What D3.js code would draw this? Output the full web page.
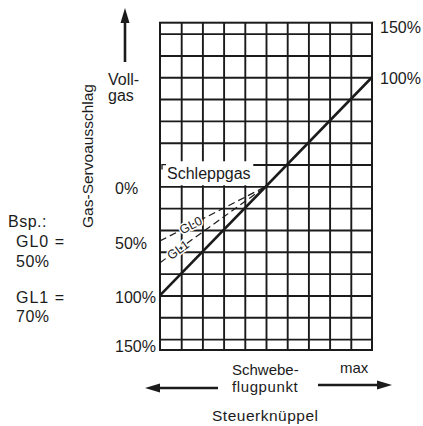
<!DOCTYPE html>
<html>
<head>
<meta charset="utf-8">
<script src="https://cdn.jsdelivr.net/npm/d3@7"></script>
<style>
  body { margin: 0; background: #fff; }
  svg { display: block; font-family: "Liberation Sans", Arial, sans-serif; }
  text { fill: #1b1b1b; }
</style>
</head>
<body>
<svg width="423" height="426"></svg>
<script>
let width = 423,
    height = 426;

// Knüppelweg (stick travel) and Servoausschlag (servo travel) in %
let stickGrid = [-80, -60, -40, -20, 0, 20, 40, 60, 80];
let servoGrid = [-140, -120, -100, -80, -60, -40, -20, 0, 20, 40, 60, 80, 100, 120, 140];

let leftTicks = [0, -50, -100, -150];
let leftTickLabels = ["0%", "50%", "100%", "150%"];
let rightTicks = [150, 100];
let rightTickLabels = ["150%", "100%"];

// Gaskurve und Leerlauf-Varianten
let mainStick = [-100, 100];
let mainServo = [-100, 100];
let gl0Stick = [-100, 0];
let gl0Servo = [-50, 0];
let gl1Stick = [-100, 0];
let gl1Servo = [-70, 0];

let x = d3.scaleLinear().domain([-100, 100]).range([160, 372]);
let y = d3.scaleLinear().domain([-150, 150]).range([350, 22.7]);

let svg = d3.select("svg");
let ink = "#1b1b1b";

// grid via axes
let grid = svg.append("g").attr("class", "grid");

grid.append("g")
    .attr("transform", "translate(0," + y(-150) + ")")
    .call(d3.axisBottom(x).tickValues(stickGrid).tickSize(-(y(-150) - y(150))).tickFormat(""))
    .call(g => g.select(".domain").remove());

grid.append("g")
    .attr("transform", "translate(" + x(-100) + ",0)")
    .call(d3.axisLeft(y).tickValues(servoGrid).tickSize(-(x(100) - x(-100))).tickFormat(""))
    .call(g => g.select(".domain").remove());

grid.selectAll("line")
    .attr("stroke", ink)
    .attr("stroke-width", 1.9);

grid.append("rect")
    .attr("x", x(-100))
    .attr("y", y(150))
    .attr("width", x(100) - x(-100))
    .attr("height", y(-150) - y(150))
    .attr("fill", "none")
    .attr("stroke", ink)
    .attr("stroke-width", 2);

// Schleppgas label box
let box = svg.append("g");
box.append("rect")
    .attr("x", x(-99))
    .attr("y", y(23))
    .attr("width", x(-12) - x(-99))
    .attr("height", y(1) - y(23))
    .attr("fill", "#fff");
box.append("path")
    .attr("d", "M" + (x(-100) + 2) + "," + (y(20) + 5) + "V" + y(20) + "H" + (x(-100) + 6))
    .attr("fill", "none")
    .attr("stroke", ink)
    .attr("stroke-width", 1.3);
box.append("text")
    .attr("x", x(-100) + 7)
    .attr("y", y(7))
    .attr("font-size", 16)
    .text("Schleppgas");

// curves
let line = d3.line().x(d => x(d[0])).y(d => y(d[1]));

[[gl0Stick, gl0Servo], [gl1Stick, gl1Servo]].forEach(s => {
  svg.append("path")
      .datum(d3.zip(s[0], s[1]))
      .attr("d", line)
      .attr("fill", "none")
      .attr("stroke", ink)
      .attr("stroke-width", 1.2)
      .attr("stroke-dasharray", "7,4");
});

svg.append("path")
    .datum(d3.zip(mainStick, mainServo))
    .attr("d", line)
    .attr("fill", "none")
    .attr("stroke", ink)
    .attr("stroke-width", 2.6);

// GL labels along the dashed lines
let glLabel = (stick, servo, at, txt) => {
  let ang = Math.atan2(y(servo[1]) - y(servo[0]), x(stick[1]) - x(stick[0])) * 180 / Math.PI;
  let sv = servo[0] + (servo[1] - servo[0]) * (at - stick[0]) / (stick[1] - stick[0]);
  svg.append("text")
      .attr("transform", "translate(" + x(at) + "," + y(sv) + ") rotate(" + ang + ")")
      .attr("text-anchor", "middle")
      .attr("dy", "0.35em")
      .attr("font-size", 12.5)
      .attr("stroke", "#fff")
      .attr("stroke-width", 3)
      .attr("paint-order", "stroke")
      .text(txt);
};
glLabel(gl0Stick, gl0Servo, -71, "GL0");
glLabel(gl1Stick, gl1Servo, -83, "GL1");

// tick labels
svg.append("g").selectAll("text")
  .data(leftTicks)
  .enter().append("text")
    .attr("x", 115)
    .attr("y", d => Math.min(y(d) + 2, 346))
    .attr("dy", "0.35em")
    .attr("font-size", 16)
    .text((d, i) => leftTickLabels[i]);

svg.append("g").selectAll("text")
  .data(rightTicks)
  .enter().append("text")
    .attr("x", 380)
    .attr("y", d => Math.max(y(d) + 1, 27))
    .attr("dy", "0.35em")
    .attr("font-size", 16)
    .text((d, i) => rightTickLabels[i]);

// y title
svg.append("text")
    .attr("transform", "translate(93,156) rotate(-90)")
    .attr("text-anchor", "middle")
    .attr("font-size", 15.5)
    .text("Gas-Servoausschlag");

svg.append("text").attr("x", 108).attr("y", 85).attr("font-size", 16).text("Voll-");
svg.append("text").attr("x", 108).attr("y", 101).attr("font-size", 16).text("gas");

// arrows
let arrow = (x1, y1, x2, y2) => {
  let a = Math.atan2(y2 - y1, x2 - x1);
  let len = 15, half = 4.5;
  let bx = x2 - len * Math.cos(a), by = y2 - len * Math.sin(a);
  svg.append("line")
      .attr("x1", x1).attr("y1", y1).attr("x2", bx).attr("y2", by)
      .attr("stroke", ink).attr("stroke-width", 2.6);
  svg.append("path")
      .attr("d", "M" + x2 + "," + y2 +
        "L" + (bx + half * Math.sin(a)) + "," + (by - half * Math.cos(a)) +
        "L" + (bx - half * Math.sin(a)) + "," + (by + half * Math.cos(a)) + "Z")
      .attr("fill", ink);
};
arrow(125, 62, 125, 8);
arrow(218, 388, 145, 388);
arrow(318, 385, 392, 385);

// example block
let exText = ["Bsp.:", "GL0 =", "50%", "GL1 =", "70%"];
let exX = [8, 16, 16, 16, 16];
let exY = [227, 247, 267, 303, 322];
svg.append("g").selectAll("text")
  .data(exText)
  .enter().append("text")
    .attr("x", (d, i) => exX[i])
    .attr("y", (d, i) => exY[i])
    .attr("font-size", 16)
    .attr("letter-spacing", d => d.indexOf("GL") === 0 ? 1 : 0.5)
    .text(d => d);

// x labels
svg.append("text").attr("x", 232).attr("y", 375).attr("font-size", 15).text("Schwebe-");
svg.append("text").attr("x", 232).attr("y", 392).attr("font-size", 15).attr("letter-spacing", 0.6).text("flugpunkt");
svg.append("text").attr("x", 340).attr("y", 373).attr("font-size", 15).text("max");
svg.append("text").attr("x", 212).attr("y", 421).attr("font-size", 15.5).attr("letter-spacing", 0.5).text("Steuerknüppel");
</script>
</body>
</html>
